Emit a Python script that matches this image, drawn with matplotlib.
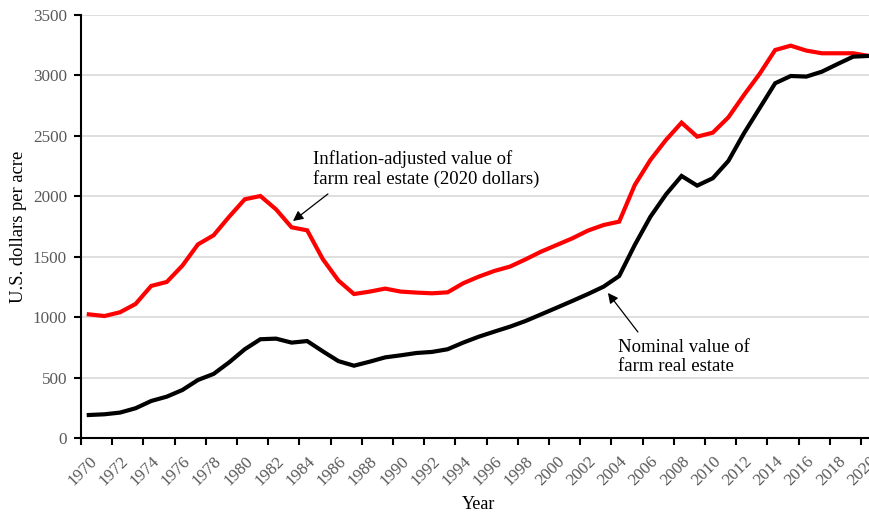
import numpy as np
import matplotlib
matplotlib.use("Agg")
import matplotlib.pyplot as plt

plt.rcParams['font.family'] = ['Liberation Serif', 'DejaVu Serif']

# Values (U.S. dollars per acre)
years = list(range(1970, 2021))
real_value = [1023, 1009, 1040, 1109, 1258, 1291, 1426, 1602, 1677, 1831,
              1975, 2002, 1892, 1743, 1718, 1480, 1303, 1191, 1211, 1236,
              1211, 1203, 1197, 1205, 1280, 1335, 1382, 1418, 1478, 1542,
              1597, 1652, 1716, 1762, 1790, 2093, 2300, 2466, 2609, 2493,
              2526, 2653, 2838, 3012, 3210, 3246, 3205, 3183, 3183, 3183,
              3161]
nominal_value = [190, 196, 210, 246, 306, 342, 397, 480, 530, 626,
                 734, 817, 822, 789, 802, 717, 636, 598, 631, 667,
                 684, 703, 712, 734, 789, 838, 880, 921, 968, 1023,
                 1078, 1134, 1191, 1252, 1340, 1597, 1830, 2015, 2168, 2088,
                 2149, 2292, 2521, 2728, 2935, 2995, 2990, 3031, 3094, 3155,
                 3161]
y_ticks = [0, 500, 1000, 1500, 2000, 2500, 3000, 3500]
x_labels = years[::2]

fig = plt.figure(figsize=(8.69, 5.14), dpi=100)
ax = fig.add_axes([0.0932, 0.1479, 0.9155, 0.8230])

ax.plot(years, real_value, color='#ff0000', linewidth=3, solid_joinstyle='miter')
ax.plot(years, nominal_value, color='black', linewidth=3, solid_joinstyle='miter')

ax.set_xlim(1969.5, 2020.5)
ax.set_ylim(0, 3500)

# y axis
ax.set_yticks(y_ticks)
ax.set_yticklabels([str(v) for v in y_ticks])
ax.yaxis.grid(True, color='#d9d9d9', linewidth=1.2)
ax.set_axisbelow(True)

# x axis: labels at category centres, tick marks at category boundaries
ax.set_xticks(x_labels)
ax.set_xticklabels([str(y) for y in x_labels], rotation=45, ha='right',
                   rotation_mode='anchor')
ax.set_xticks([y - 0.5 for y in x_labels], minor=True)
ax.tick_params(axis='x', which='major', length=0, pad=11)
ax.tick_params(axis='x', which='minor', length=5, width=1.5, direction='out')
ax.tick_params(axis='y', length=5, width=1.5, direction='out', pad=5)
ax.tick_params(axis='both', which='major', labelsize=12.3, labelcolor='#595959')

for side in ['top', 'right']:
    ax.spines[side].set_visible(False)
for side in ['left', 'bottom']:
    ax.spines[side].set_linewidth(1.5)
    ax.spines[side].set_color('black')

ax.set_ylabel('U.S. dollars per acre', fontsize=13.3)
ax.yaxis.set_label_coords(-0.068, 0.5)
ax.set_xlabel('Year', fontsize=13)
ax.xaxis.set_label_coords(0.5, -0.138)

# annotations
ax.text(1984.37, 2385, 'Inflation-adjusted value of\nfarm real estate (2020 dollars)',
        fontsize=13.5, ha='left', va='top', linespacing=1.15)
ax.annotate('', xy=(1983.09, 1795), xytext=(1985.33, 2019),
            arrowprops=dict(arrowstyle='-|>', color='black', lw=0.9,
                            mutation_scale=15, shrinkA=0, shrinkB=0))
ax.text(2003.9, 822, 'Nominal value of\nfarm real estate',
        fontsize=13.5, ha='left', va='top', linespacing=1.15)
ax.annotate('', xy=(2003.28, 1200), xytext=(2005.2, 877),
            arrowprops=dict(arrowstyle='-|>', color='black', lw=0.9,
                            mutation_scale=15, shrinkA=0, shrinkB=0))

fig.savefig('out.png', dpi=100)
